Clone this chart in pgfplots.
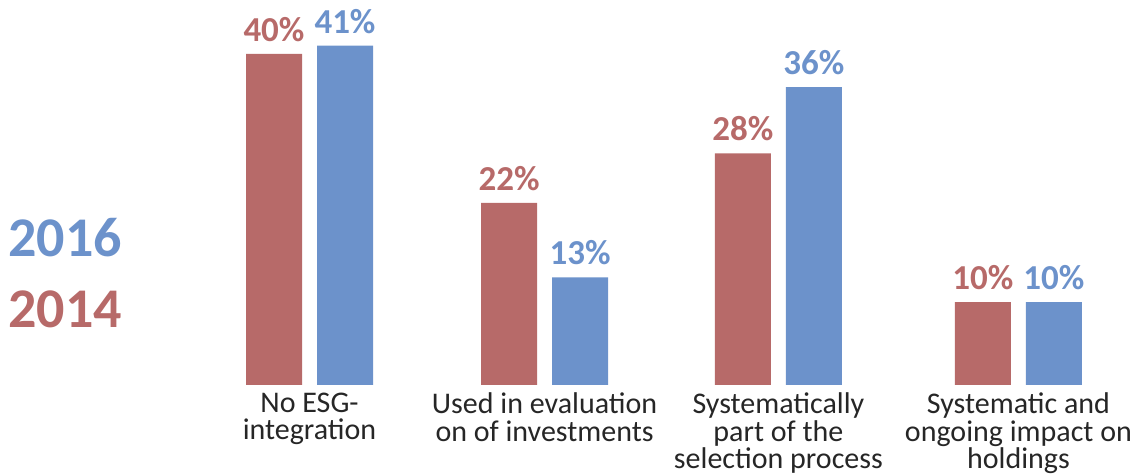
\documentclass[border=0pt]{standalone}
\usepackage{pgfplots}
\pgfplotsset{compat=1.18}
\usepackage{fontspec}
\setmainfont{Carlito}
\definecolor{red14}{RGB}{183,106,105}
\definecolor{blue16}{RGB}{108,146,203}
\definecolor{txt}{RGB}{38,38,38}
\begin{document}
\begin{tikzpicture}[x=1pt,y=1pt]
\useasboundingbox (0,0) rectangle (568,237);
\node[anchor=base west,inner sep=0pt,text=blue16,font=\fontsize{28}{28}\selectfont\bfseries] at (4,108.5) {2016};
\node[anchor=base west,inner sep=0pt,text=red14,font=\fontsize{28}{28}\selectfont\bfseries] at (4,73) {2014};
\begin{axis}[
  at={(95.75pt,44.5pt)}, anchor=south west,
  scale only axis, width=472pt, height=186.19pt,
  xmin=-0.5, xmax=3.5, ymin=0, ymax=45,
  clip=false,
  axis line style={draw=none},
  tick style={draw=none},
  ytick=\empty,
  xtick={0,0.996,1.987,3.004},
  xticklabels={{No ESG-\\integration},{Used in evaluation\\on of investments},{Systematically\\part of the\\selection process},{Systematic and\\ongoing impact on\\holdings}},
  xticklabel style={font=\fontsize{15}{13.8}\selectfont, text=txt, align=center, anchor=north, inner sep=0pt, yshift=0.5pt},
  ybar, bar width=28pt,
  nodes near coords={\pgfmathprintnumber[assume math mode=true]{\pgfplotspointmeta}\%},
  every node near coord/.append style={font=\fontsize{17.5}{17.5}\selectfont\bfseries, anchor=south, inner sep=0pt, yshift=6pt},
]
\addplot[fill=red14, draw=none, bar shift=-17.75pt, every node near coord/.append style={text=red14}] coordinates {(0,40) (0.996,22) (1.987,28) (3.004,10)};
\addplot[fill=blue16, draw=none, bar shift=17.75pt, every node near coord/.append style={text=blue16}] coordinates {(0,41) (0.996,13) (1.987,36) (3.004,10)};
\end{axis}
\end{tikzpicture}
\end{document}
